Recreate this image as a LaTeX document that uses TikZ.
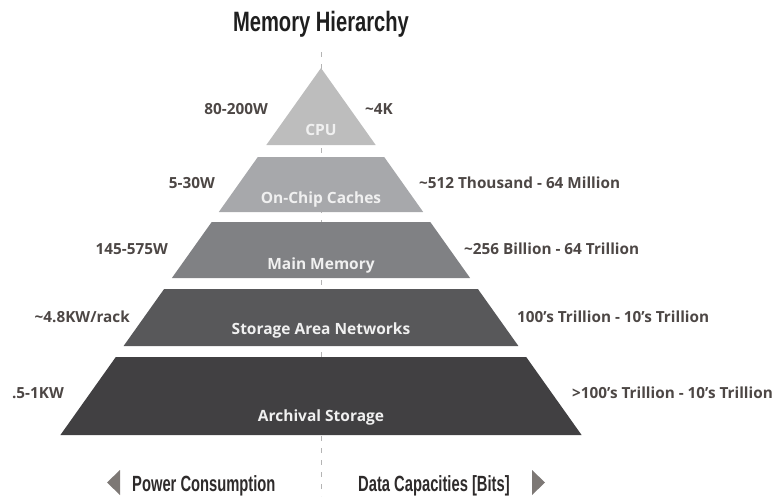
\documentclass[tikz,border=0pt]{standalone}
\usepackage{fontspec}
\setmainfont{Open Sans}
\newfontfamily\condfont{Liberation Sans Bold}[FakeStretch=0.72]
\newfontfamily\condfontb{Liberation Sans Bold}[FakeStretch=0.67]
\begin{document}
\begin{tikzpicture}[x=1pt,y=-1pt,
  layer/.style={draw=none},
  sidelabel/.style={inner sep=0pt,font=\fontsize{15.3}{17}\selectfont\bfseries,text=labc},
  innerlabel/.style={inner sep=0pt,font=\fontsize{15.5}{17}\selectfont\bfseries,text=white!94!black},
  axislabel/.style={inner sep=0pt,font=\condfontb\fontsize{22}{24}\selectfont,text=axc},
  arrowtri/.style={fill=tric,draw=none},
  centerline/.style={draw=linec,line width=1pt,dash pattern=on 5pt off 7pt}]
\definecolor{labc}{HTML}{4D4745}
\definecolor{axc}{HTML}{2E2B2B}
\definecolor{tric}{HTML}{7D7875}
\definecolor{linec}{HTML}{B4B4B4}
\definecolor{cA}{HTML}{BDBDBD}
\definecolor{cB}{HTML}{A7A8AB}
\definecolor{cC}{HTML}{808184}
\definecolor{cD}{HTML}{58585A}
\definecolor{cE}{HTML}{414042}
\useasboundingbox (0,0) rectangle (774,496);
% centre line
\coordinate (ltop) at (321,52);
\coordinate (lbot) at (321,496);
\draw[centerline] (ltop) -- (lbot);
% layers
\fill[layer,cA] (321,68) -- (375.7,145) -- (266.3,145) -- cycle;
\fill[layer,cB] (257.8,157) -- (384.2,157) -- (423.2,212) -- (218.8,212) -- cycle;
\fill[layer,cC] (211.7,222) -- (430.3,222) -- (470.1,278) -- (171.9,278) -- cycle;
\fill[layer,cD] (164.1,289) -- (477.9,289) -- (518.4,346) -- (123.6,346) -- cycle;
\fill[layer,cE] (115.8,357) -- (526.2,357) -- (581.6,435) -- (60.4,435) -- cycle;
% title
\node[inner sep=0pt,anchor=base,font=\condfont\fontsize{28}{30}\selectfont,text=black!88] (title) at (321,31) {Memory Hierarchy};
% inner labels
\node[innerlabel,anchor=base] (cpu) at (321,135) {CPU};
\node[innerlabel,anchor=base] (cache) at (321,203) {On-Chip Caches};
\node[innerlabel,anchor=base] (mem) at (321,269) {Main Memory};
\node[innerlabel,anchor=base] (san) at (321,334) {Storage Area Networks};
\node[innerlabel,anchor=base] (arch) at (321,421) {Archival Storage};
% power labels
\node[sidelabel,anchor=base east] (p1) at (268,114) {80-200W};
\node[sidelabel,anchor=base east] (p2) at (215,188) {5-30W};
\node[sidelabel,anchor=base east] (p3) at (168,254) {145-575W};
\node[sidelabel,anchor=base east] (p4) at (130,322) {\char"007E 4.8KW/rack};
\node[sidelabel,anchor=base east] (p5) at (64,398) {.5-1KW};
% capacity labels
\node[sidelabel,anchor=base west] (c1) at (365,114) {\char"007E 4K};
\node[sidelabel,anchor=base west] (c2) at (419,188) {\char"007E 512 Thousand - 64 Million};
\node[sidelabel,anchor=base west] (c3) at (464,254) {\char"007E 256 Billion - 64 Trillion};
\node[sidelabel,anchor=base west] (c4) at (517,322) {100’s Trillion - 10’s Trillion};
\node[sidelabel,anchor=base west] (c5) at (572,398) {>100’s Trillion - 10’s Trillion};
% axis labels
\node[axislabel,anchor=base west] (power) at (132,491) {Power Consumption};
\node[axislabel,anchor=base west] (data) at (358,491) {Data Capacities [Bits]};
\fill[arrowtri] (120,470) -- (120,495) -- (107,482.5) -- cycle;
\fill[arrowtri] (532,470) -- (532,495) -- (545,482.5) -- cycle;
\end{tikzpicture}
\end{document}
